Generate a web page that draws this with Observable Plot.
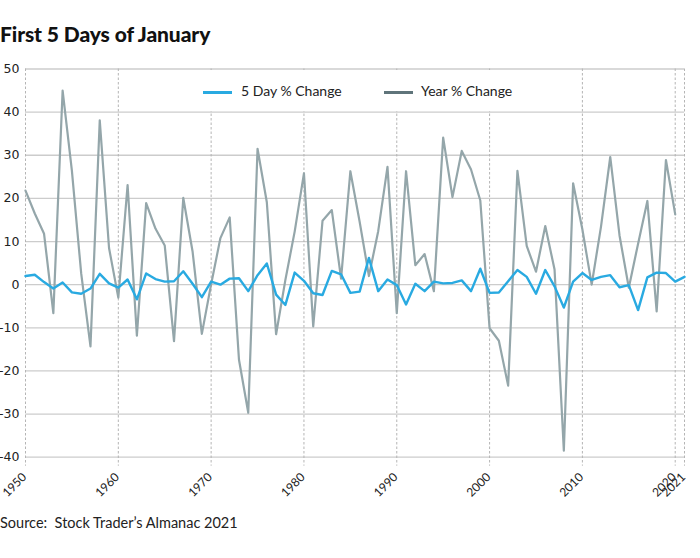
<!DOCTYPE html>
<html><head><meta charset="utf-8">
<script src="https://cdn.jsdelivr.net/npm/d3@7"></script>
<script src="https://cdn.jsdelivr.net/npm/@observablehq/plot@0.6"></script>
<style>
body{margin:0;background:#fff;}
#wrap{position:relative;width:700px;height:558px;font-family:Lato,sans-serif;color:#111;overflow:hidden;}
#title{position:absolute;left:0;top:21px;font-weight:900;font-size:21px;letter-spacing:-0.1px;}
#chart{position:absolute;left:0;top:50px;}
#legend{position:absolute;left:150px;top:70px;width:390px;height:41px;background:#fff;}
.sw{position:absolute;top:21px;height:2.5px;width:29px;}
.lt{position:absolute;top:12px;font-size:14px;color:#222;white-space:nowrap;}
#caption{position:absolute;left:0;top:514px;font-size:14.5px;color:#222;}
</style></head>
<body>
<div id="wrap">
  <div id="title">First 5 Days of January</div>
  <div id="chart"></div>
  <div id="legend">
    <div class="sw" style="left:53px;background:#29aae1"></div>
    <div class="lt" style="left:91px">5 Day % Change</div>
    <div class="sw" style="left:234px;background:#5f747a"></div>
    <div class="lt" style="left:271px">Year % Change</div>
  </div>
  <div id="caption">Source:&nbsp; Stock Trader’s Almanac 2021</div>
</div>
<script>
const years = [1950,1951,1952,1953,1954,1955,1956,1957,1958,1959,
1960,1961,1962,1963,1964,1965,1966,1967,1968,1969,
1970,1971,1972,1973,1974,1975,1976,1977,1978,1979,
1980,1981,1982,1983,1984,1985,1986,1987,1988,1989,
1990,1991,1992,1993,1994,1995,1996,1997,1998,1999,
2000,2001,2002,2003,2004,2005,2006,2007,2008,2009,
2010,2011,2012,2013,2014,2015,2016,2017,2018,2019,
2020,2021];
const fiveDay = [2.0,2.3,0.6,-0.9,0.5,-1.8,-2.1,-0.9,2.5,0.3,
-0.7,1.2,-3.4,2.6,1.3,0.7,0.8,3.1,0.2,-2.9,
0.7,0.0,1.4,1.5,-1.5,2.2,4.9,-2.3,-4.7,2.8,
0.9,-2.0,-2.4,3.2,2.4,-1.9,-1.6,6.2,-1.5,1.2,
-0.1,-4.6,0.2,-1.5,0.7,0.3,0.4,1.0,-1.5,3.7,
-1.9,-1.8,0.8,3.4,1.8,-2.1,3.4,-0.4,-5.3,0.7,
2.7,1.1,1.8,2.2,-0.6,-0.1,-5.9,1.7,2.8,2.7,
0.7,1.8];
const yearChange = [21.8,16.5,11.8,-6.6,45.0,26.4,2.6,-14.3,38.1,8.5,
-3.0,23.1,-11.8,18.9,13.0,9.1,-13.1,20.1,7.7,-11.4,
0.1,10.8,15.6,-17.4,-29.7,31.5,19.1,-11.5,1.1,12.3,
25.8,-9.7,14.8,17.3,1.4,26.3,14.6,2.0,12.4,27.3,
-6.6,26.3,4.5,7.1,-1.5,34.1,20.3,31.0,26.7,19.5,
-10.1,-13.0,-23.4,26.4,9.0,3.0,13.6,3.5,-38.5,23.5,
12.8,0.0,13.4,29.6,11.4,-0.7,9.5,19.4,-6.2,28.9,
16.3,null];
const xTicks = [1950,1960,1970,1980,1990,2000,2010,2020,2021];
const yTicks = [-40,-30,-20,-10,0,10,20,30,40,50];

const data = years.map((y,i)=>({year:y, fiveDay:fiveDay[i], yearChange:yearChange[i]}));

const chart = Plot.plot({
  width:700, height:462,
  marginTop:18.5, marginBottom:55.3, marginLeft:25, marginRight:16,
  x:{domain:[1950,2021], label:null},
  y:{domain:[-40,50], label:null},
  style:{background:"transparent"},
  marks:[
    Plot.gridY(yTicks,{stroke:"#cccccc", strokeOpacity:1, strokeWidth:1.3}),
    Plot.gridX(xTicks,{stroke:"#b5b5b5", strokeOpacity:1, strokeDasharray:"2.5,2", insetBottom:-9}),
    Plot.axisY(yTicks,{tickSize:0, tickPadding:6, tickFormat:d=>String(d), fontSize:12.5, fontFamily:"DejaVu Sans", fill:"#222"}),
    Plot.axisX(xTicks,{tickSize:0, tickPadding:18, dx:-1, tickRotate:-45, tickFormat:d=>String(d), fontSize:12, fontFamily:"Lato", fill:"#222"}),
    Plot.line(data,{x:"year", y:"yearChange", stroke:"#94a6aa", strokeWidth:2.2}),
    Plot.line(data,{x:"year", y:"fiveDay", stroke:"#29aae1", strokeWidth:2.4})
  ]
});
document.getElementById("chart").appendChild(chart);
</script>
</body></html>
